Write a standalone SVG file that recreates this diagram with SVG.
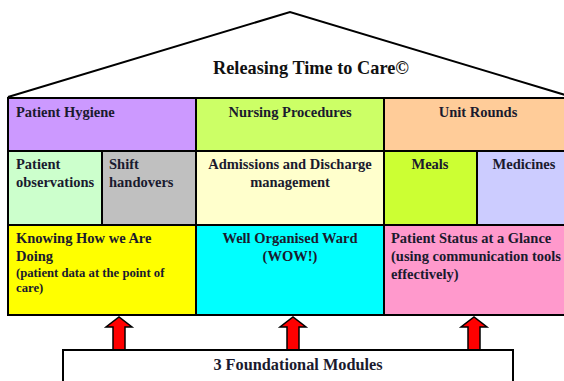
<svg xmlns="http://www.w3.org/2000/svg" width="564" height="381" viewBox="0 0 564 381">
  <style>
    .cell { stroke: #000; stroke-width: 2; }
    .t { font-family: "Liberation Serif", "Times New Roman", serif; font-weight: bold; font-size: 14.5px; fill: #1a1a2e; }
    .s { font-size: 12.7px; }
    .c { text-anchor: middle; }
    .title { font-family: "Liberation Serif", "Times New Roman", serif; font-weight: bold; font-size: 18.3px; fill: #111; text-anchor: middle; }
    .arrow { fill: #ff0000; stroke: #000; stroke-width: 1.5; }
  </style>
  <defs>
    <path id="up" d="M -6 34 L -6 10 L -13 10 L 0 0 L 13 10 L 6 10 L 6 34 Z"/>
  </defs>
  <rect width="564" height="381" fill="#fff"/>

  <g id="roof">
    <polyline points="8,97 290,12 572,97" fill="#fff" stroke="#000" stroke-width="2"/>
    <text class="title" x="311" y="74">Releasing Time to Care©</text>
  </g>

  <g id="patient-hygiene">
    <rect class="cell" x="8" y="98" width="188" height="53" fill="#cc99ff"/>
    <text class="t" x="16" y="117">Patient Hygiene</text>
  </g>
  <g id="nursing-procedures">
    <rect class="cell" x="196" y="98" width="188" height="53" fill="#ccff66"/>
    <text class="t c" x="290" y="117">Nursing Procedures</text>
  </g>
  <g id="unit-rounds">
    <rect class="cell" x="384" y="98" width="188" height="53" fill="#ffcc99"/>
    <text class="t c" x="478" y="117">Unit Rounds</text>
  </g>

  <g id="patient-observations">
    <rect class="cell" x="8" y="151" width="94" height="74" fill="#ccffcc"/>
    <text class="t" x="16" y="169">Patient</text>
    <text class="t" x="16" y="187">observations</text>
  </g>
  <g id="shift-handovers">
    <rect class="cell" x="102" y="151" width="94" height="74" fill="#c0c0c0"/>
    <text class="t" x="109" y="169">Shift</text>
    <text class="t" x="109" y="187">handovers</text>
  </g>
  <g id="admissions-discharge">
    <rect class="cell" x="196" y="151" width="188" height="74" fill="#ffffcc"/>
    <text class="t c" x="290" y="169">Admissions and Discharge</text>
    <text class="t c" x="290" y="187">management</text>
  </g>
  <g id="meals">
    <rect class="cell" x="384" y="151" width="93" height="74" fill="#ccff33"/>
    <text class="t c" x="430" y="169">Meals</text>
  </g>
  <g id="medicines">
    <rect class="cell" x="477" y="151" width="95" height="74" fill="#ccccff"/>
    <text class="t c" x="524" y="169">Medicines</text>
  </g>

  <g id="knowing-how">
    <rect class="cell" x="8" y="225" width="188" height="90" fill="#ffff00"/>
    <text class="t" x="16" y="243">Knowing How we Are</text>
    <text class="t" x="16" y="261">Doing</text>
    <text class="t s" x="16" y="277">(patient data at the point of</text>
    <text class="t s" x="16" y="292">care)</text>
  </g>
  <g id="well-organised-ward">
    <rect class="cell" x="196" y="225" width="188" height="90" fill="#00ffff"/>
    <text class="t c" x="290" y="243">Well Organised Ward</text>
    <text class="t c" x="290" y="261">(WOW!)</text>
  </g>
  <g id="patient-status">
    <rect class="cell" x="384" y="225" width="188" height="90" fill="#ff99cc"/>
    <text class="t" x="391" y="243">Patient Status at a Glance</text>
    <text class="t" x="391" y="261">(using communication tools</text>
    <text class="t" x="391" y="279">effectively)</text>
  </g>

  <g id="connectors">
    <use href="#up" class="arrow" x="119" y="317"/>
    <use href="#up" class="arrow" x="293" y="317"/>
    <use href="#up" class="arrow" x="474" y="317"/>
  </g>

  <g id="foundational-modules">
    <rect x="63" y="350" width="450" height="40" fill="#fff" stroke="#000" stroke-width="2"/>
    <text class="t c" x="298" y="370" style="font-size:16.3px">3 Foundational Modules</text>
  </g>
</svg>
